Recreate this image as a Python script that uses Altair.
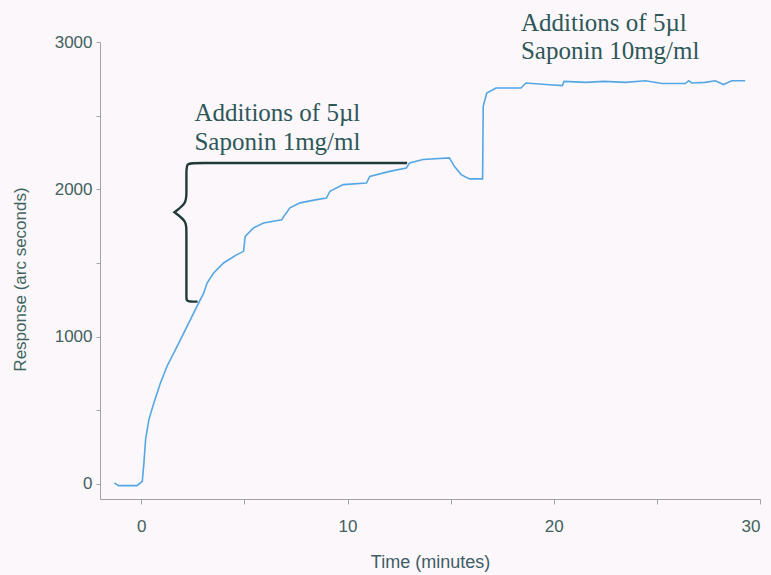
import altair as alt
import pandas as pd

# --- data ---
time_min = [-1.3, -1.1, -0.2, 0.05, 0.13, 0.21, 0.37, 0.61, 0.93, 1.25, 1.74, 2.22, 2.70,
            3.03, 3.19, 3.51, 3.99, 4.64, 4.96, 5.04, 5.44, 5.93, 6.81, 6.97, 7.21, 7.70,
            8.5, 8.98, 9.15, 9.79, 10.92, 11.08, 12.04, 12.85, 13.01, 13.66, 14.94, 15.18,
            15.51, 15.91, 16.55, 16.58, 16.75, 17.20, 18.41, 18.65, 19.61, 20.42, 20.50,
            21.55, 22.43, 23.48, 24.44, 25.25, 26.38, 26.54, 26.7, 27.34, 27.83, 28.23,
            28.63, 29.28]
response = [7, -11, -11, 18, 143, 301, 437, 550, 686, 799, 934, 1070, 1206,
            1297, 1364, 1432, 1500, 1557, 1579, 1681, 1738, 1772, 1794, 1828, 1874, 1908,
            1930, 1941, 1987, 2032, 2043, 2088, 2122, 2145, 2179, 2202, 2213, 2156,
            2100, 2071, 2071, 2564, 2654, 2688, 2688, 2722, 2711, 2704, 2733,
            2726, 2733, 2726, 2737, 2718, 2718, 2737, 2722, 2726, 2737, 2711,
            2737, 2737]

x_ticks = [0, 5, 10, 15, 20, 25, 30]
y_ticks = [0, 500, 1000, 1500, 2000, 2500, 3000]

# annotation text (anchors in data units)
note_text = ["Additions of 5µl", "Saponin 1mg/ml", "Additions of 5µl", "Saponin 10mg/ml"]
note_x = [2.58, 2.58, 18.41, 18.41]
note_y = [2466, 2269, 3073, 2882]

# curly brace path (control points in data units)
brace_x = [12.89, 5.78, 2.63, 2.19, 2.19, 2.19, 2.19, 1.61, 1.61, 1.61, 2.19, 2.19, 2.19, 2.19, 2.19, 2.73]
brace_y = [2179, 2179, 2179, 2179, 2120, 1962, 1908, 1844, 1844, 1844, 1783, 1727, 1305, 1260, 1238, 1238]

df = pd.DataFrame({"t": time_min, "r": response})
notes = pd.DataFrame({"x": note_x, "y": note_y, "text": note_text})
brace = pd.DataFrame({"x": brace_x, "y": brace_y, "i": list(range(len(brace_x)))})

label_color = "#43615e"
axis_color = "#a3a3a3"

xscale = alt.Scale(domain=[-2, 30], nice=False, zero=False)
yscale = alt.Scale(domain=[-102, 3000], nice=False, zero=False)

xaxis = alt.Axis(
    values=x_ticks, labelExpr="datum.value % 10 === 0 ? datum.label : ''",
    grid=False, domainColor=axis_color, tickColor=axis_color, tickSize=5,
    labelFont="Liberation Sans", labelFontSize=17, labelColor=label_color,
    labelPadding=14, title="Time (minutes)", titleFont="Liberation Sans",
    titleFontSize=18, titleFontWeight="normal", titleColor="#3f5d66",
    titleX=330, titleY=68, titleBaseline="alphabetic", titleAlign="center",
)
yaxis = alt.Axis(
    values=y_ticks, format="d", labelExpr="datum.value % 1000 === 0 ? datum.label : ''",
    grid=False, domainColor=axis_color, tickColor=axis_color, tickSize=4,
    labelFont="Liberation Sans", labelFontSize=17, labelColor=label_color,
    labelPadding=4, title="Response (arc seconds)", titleFont="Liberation Sans",
    titleFontSize=17, titleFontWeight="normal", titleColor="#3f6460",
    titleX=-79.5, titleY=237, titleBaseline="middle", titleAlign="center", titleAngle=-90,
)

line = alt.Chart(df).mark_line(color="#55a7e3", strokeWidth=1.6).encode(
    x=alt.X("t:Q", scale=xscale, axis=xaxis),
    y=alt.Y("r:Q", scale=yscale, axis=yaxis),
)

brace_layer = alt.Chart(brace).mark_line(
    color="#203a3a", strokeWidth=2.4, interpolate="basis"
).encode(
    x=alt.X("x:Q", scale=xscale),
    y=alt.Y("y:Q", scale=yscale),
    order="i:Q",
)

text_layer = alt.Chart(notes).mark_text(
    align="left", baseline="alphabetic", font="Liberation Serif",
    fontSize=25, color="#2e5758",
).encode(
    x=alt.X("x:Q", scale=xscale),
    y=alt.Y("y:Q", scale=yscale),
    text="text:N",
)

chart = alt.layer(line, brace_layer, text_layer).properties(
    width=660, height=457,
    autosize=alt.AutoSizeParams(type="none"),
    padding={"left": 100, "top": 42, "right": 11, "bottom": 76},
    background="#fbf7fb",
).configure_view(stroke=None)

chart.save("out.html", embed_options={"renderer": "svg", "actions": False})
